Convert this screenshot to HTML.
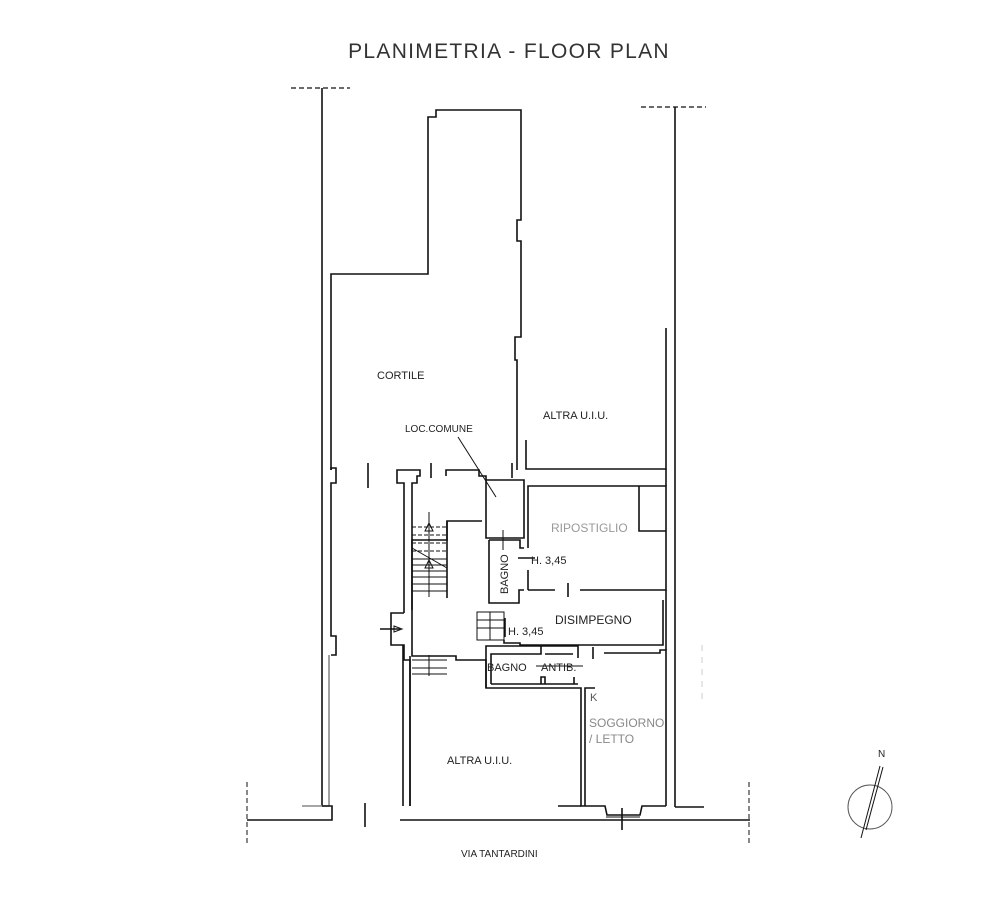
<!DOCTYPE html>
<html><head><meta charset="utf-8"><style>
html,body{margin:0;padding:0;background:#fff;}
svg{display:block;}
text{font-family:"Liberation Sans",sans-serif;}
</style></head><body>
<svg width="1006" height="908" viewBox="0 0 1006 908" xmlns="http://www.w3.org/2000/svg">
<rect width="1006" height="908" fill="#fff"/>
<text x="509" y="58" text-anchor="middle" font-size="21" fill="#333" letter-spacing="1.3">PLANIMETRIA - FLOOR PLAN</text>
<g fill="none" stroke="#111" stroke-width="1.6">
<line x1="291" y1="88" x2="350" y2="88" stroke-dasharray="5,3" stroke-width="1.2"/>
<line x1="641" y1="107" x2="706" y2="107" stroke-dasharray="5,3" stroke-width="1.2"/>
<line x1="322" y1="88" x2="322" y2="806"/>
<line x1="675" y1="107" x2="675" y2="807"/>
<polyline points="331,470 331,274 428,274 428,117 436,117 436,110 521,110 521,220 517,220 517,241 521,241 521,337 515,337 515,360 517,360 517,470"/>
<polyline points="526,440 526,469 666,469 666,328"/>
<polyline points="331,470 331,468 336,468 336,483 331,483 331,636 336,636 336,655 331,655"/>
<line x1="329" y1="655" x2="329" y2="806" stroke="#888"/>
<line x1="302" y1="806" x2="329" y2="806" stroke="#888"/>
<polyline points="247,820 332,820 332,806 322,806"/>
<polyline points="400,820 750,820"/>
<line x1="365" y1="803" x2="365" y2="827"/>
<line x1="368" y1="463" x2="368" y2="488"/>
<line x1="431" y1="463" x2="431" y2="478"/>
<line x1="512" y1="463" x2="512" y2="478"/>
<polyline points="404,613 404,483 397,483 397,470 420,470 420,476 417,476 417,483 412,483 412,613"/>
<polyline points="446,476 446,470 479,470 479,476 486,476 486,480 524,480 524,538 486,538 486,480"/>
<polyline points="412,610 412,540 447,540 447,521 482,521"/>
<line x1="447" y1="521" x2="447" y2="598"/>
<g stroke-width="1">
<line x1="412" y1="527" x2="447" y2="527" stroke-dasharray="4,2"/>
<line x1="412" y1="535" x2="447" y2="535" stroke-dasharray="4,2"/>
<line x1="412" y1="543" x2="447" y2="543" stroke-dasharray="4,2"/>
<line x1="412" y1="551" x2="447" y2="551" stroke-dasharray="4,2"/>
<line x1="412" y1="559" x2="447" y2="559"/>
<line x1="412" y1="565" x2="447" y2="565"/>
<line x1="412" y1="571" x2="447" y2="571"/>
<line x1="412" y1="577" x2="447" y2="577"/>
<line x1="412" y1="584" x2="447" y2="584"/>
<line x1="412" y1="591" x2="447" y2="591"/>
<line x1="429" y1="512" x2="429" y2="597"/>
<line x1="412" y1="548" x2="447" y2="568"/>
<polygon points="429,523 425,531 433,531"/>
<polygon points="429,560 425,568 433,568"/>
</g>
<polyline points="404,613 391,613 391,645 404,645 404,660 410,660 410,806"/>
<line x1="380" y1="629" x2="400" y2="629"/>
<polygon points="394,626 402,629 394,632" stroke-width="1"/>
<line x1="403" y1="645" x2="403" y2="806"/>
<polyline points="412,613 412,656 456,656 456,660 486,660 486,688 581,688 581,806 585,806"/>
<polyline points="585,806 585,688 595,688"/>
<line x1="410" y1="656" x2="410" y2="806"/>
<g stroke-width="1">
<line x1="412" y1="660" x2="447" y2="660"/>
<line x1="412" y1="668" x2="447" y2="668"/>
<line x1="412" y1="674" x2="447" y2="674"/>
<line x1="429" y1="655" x2="429" y2="676"/>
</g>
<rect x="477" y="612" width="27" height="28" stroke-width="1"/>
<line x1="477" y1="620" x2="504" y2="620" stroke-width="1"/>
<line x1="477" y1="628" x2="504" y2="628" stroke-width="1"/>
<line x1="490" y1="612" x2="490" y2="640" stroke-width="1"/>
<polyline points="504,640 504,643 520,643 520,645 663,645 663,600"/>
<line x1="505" y1="618" x2="505" y2="637"/>
<polyline points="489,540 520,540 520,548 524,548"/>
<polyline points="489,540 489,603 519,603 519,590 524,590"/>
<line x1="503" y1="530" x2="503" y2="550" stroke-width="1"/>
<line x1="518" y1="558" x2="535" y2="558"/>
<line x1="528" y1="570" x2="528" y2="590"/>
<polyline points="528,548 528,486 666,486 666,590 580,590"/>
<line x1="528" y1="590" x2="555" y2="590"/>
<line x1="568" y1="583" x2="568" y2="597"/>
<polyline points="639,486 639,531 666,531"/>
<line x1="666" y1="486" x2="666" y2="469"/>
<line x1="666" y1="590" x2="666" y2="650"/>
<polyline points="604,653 660,653 660,650 666,650 666,806"/>
<line x1="593" y1="647" x2="593" y2="659"/>
<polyline points="486,688 486,646 578,646 578,658"/>
<polyline points="491,684 491,654 541,654 541,646"/>
<polyline points="541,684 541,677 545,677 545,684"/>
<line x1="491" y1="684" x2="578" y2="684"/>
<line x1="574" y1="677" x2="574" y2="684"/>
<line x1="545" y1="654" x2="573" y2="654"/>
<line x1="536" y1="666" x2="583" y2="666" stroke-width="1"/>
<polyline points="585,806 605,806 607,815 640,815 642,806 666,806"/>
<line x1="606" y1="817" x2="640" y2="817" stroke-width="1"/>
<line x1="622" y1="808" x2="622" y2="830"/>
<line x1="675" y1="807" x2="704" y2="807"/>
<line x1="558" y1="806" x2="581" y2="806"/>
<line x1="247" y1="782" x2="247" y2="845" stroke-dasharray="5,3" stroke-width="1"/>
<line x1="749" y1="782" x2="749" y2="845" stroke-dasharray="5,3" stroke-width="1"/>
<line x1="702" y1="645" x2="702" y2="705" stroke="#ccc" stroke-dasharray="6,6" stroke-width="1"/>
<line x1="458" y1="437" x2="496" y2="497" stroke-width="1"/>
<circle cx="870" cy="807" r="22" stroke="#555" stroke-width="1"/>
<line x1="880" y1="766" x2="861" y2="838" stroke-width="1"/>
<line x1="883" y1="767" x2="866" y2="830" stroke-width="1"/>
</g>
<g font-size="11" fill="#222">
<text x="377" y="379">CORTILE</text>
<text x="543" y="419">ALTRA U.I.U.</text>
<text x="405" y="432" font-size="10">LOC.COMUNE</text>
<text x="551" y="532" font-size="12" fill="#999">RIPOSTIGLIO</text>
<text x="531" y="564" font-size="11">H. 3,45</text>
<text x="508" y="594" font-size="11" transform="rotate(-90 508 594)">BAGNO</text>
<text x="555" y="624" font-size="12">DISIMPEGNO</text>
<text x="508" y="635" font-size="11">H. 3,45</text>
<text x="487" y="671">BAGNO</text>
<text x="541" y="671">ANTIB.</text>
<text x="590" y="701" fill="#555">K</text>
<text x="589" y="727" font-size="12" fill="#888">SOGGIORNO</text>
<text x="589" y="743" font-size="12" fill="#888">/ LETTO</text>
<text x="447" y="764">ALTRA U.I.U.</text>
<text x="461" y="857" font-size="10">VIA TANTARDINI</text>
<text x="878" y="757" font-size="10">N</text>
</g>
</svg>
</body></html>
